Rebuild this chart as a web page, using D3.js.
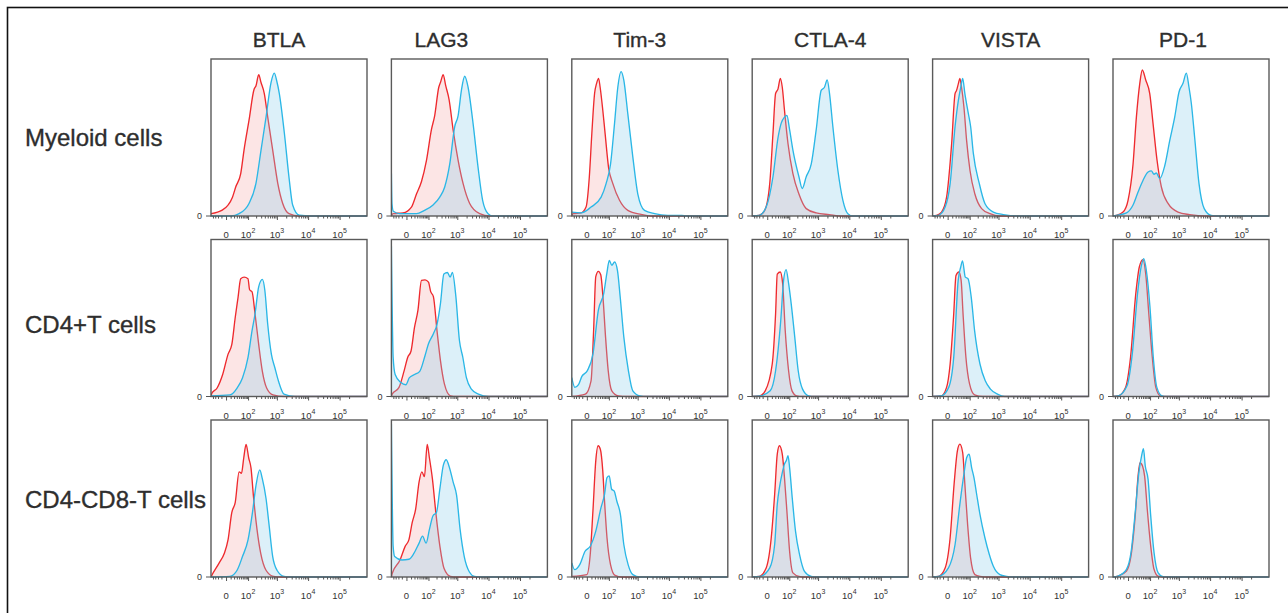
<!DOCTYPE html>
<html>
<head>
<meta charset="utf-8">
<script src="https://cdn.jsdelivr.net/npm/d3@7"></script>
<style>
  html, body { margin: 0; padding: 0; background: #fff; }
  svg { display: block; font-family: "Liberation Sans", Arial, Helvetica, sans-serif; }
</style>
</head>
<body>
<div id="chart"></div>
<script>
// markers (columns) and cell populations (rows)
const markers = ["BTLA", "LAG3", "Tim-3", "CTLA-4", "VISTA", "PD-1"];
const populations = ["Myeloid cells", "CD4+T cells", "CD4-CD8-T cells"];

// x axis ticks (fluorescence intensity) and their labels
const majorTicks = [0, 100, 1000, 10000, 100000];
const tickBase = ["0", "10", "10", "10", "10"];
const tickExp = ["", "2", "3", "4", "5"];
const minorTicks = [-40, -30, -20, -10, 10, 20, 30, 40, 50, 60, 70, 80, 90,
  200, 300, 400, 500, 600, 700, 800, 900, 2000, 3000, 4000, 5000, 6000, 7000, 8000, 9000,
  20000, 30000, 40000, 50000, 60000, 70000, 80000, 90000, 200000];

// histograms: [intensity, % of max], one curve per marker (same order as markers)
// red = control, blue = stained
const myeloidCtrl = [
  [[-50,1.5],[-8,3.7],[15,12],[26,18.6],[48,27],[68,42],[109,61],[168,80.6],[198,83],[247,90],[297,85],[384,78],[500,63],[730,42],[1065,21],[1545,8],[2460,1.5],[5130,0]],
  [[-42,1.5],[-7,2],[11,5.7],[27,14],[50,22],[83,35.5],[130,55],[172,64],[240,82],[280,85.5],[340,90],[415,83],[540,74],[730,55],[1065,35.5],[1545,20.6],[2510,8],[5230,1.5],[11000,0]],
  [[-44,1.5],[-13,2],[-1.5,5.7],[5,25],[11,52.5],[19,78],[26,84.5],[34,87.7],[41,82],[55,67.5],[70,52.5],[97,31],[142,20.6],[247,10],[474,3.6],[1290,1],[2650,0]],
  [[-20,0.4],[-5,3.6],[5,20.6],[13,52.5],[21,78],[30,81],[40,87.7],[50,82],[63,67.5],[89,46],[138,27],[228,14],[406,4.7],[869,2],[2285,0.9],[6250,0]],
  [[-31,0.4],[-14,2.5],[-2,12],[8.5,46],[18,78],[23,80],[30,84.5],[36,87.7],[44,82],[57,69.6],[75,48],[103,29],[158,14],[274,4.7],[525,1.5],[1088,0]],
  [[-34,0.4],[-11,2.5],[0,10],[11,33],[21,63],[34,84.5],[46,93],[66,86.6],[97,78],[130,59],[183,35.5],[260,18.5],[439,8],[937,2.5],[2230,0.9],[7400,0]]
];
const myeloidStain = [
  [[-50,0],[11,0],[40,1.5],[109,8],[198,21],[297,42],[439,63],[643,85],[825,91],[990,86],[1200,78],[1740,53],[2510,23],[3220,7],[5230,0.5],[12350,0]],
  [[-50,27],[-47,8],[-40,3],[-16,1.5],[27,1.5],[68,3.6],[150,7],[260,12],[384,18.5],[565,33],[825,57],[1065,64],[1360,80],[1740,89],[2230,82],[3220,59],[4650,31],[6500,10],[9700,1.5],[14000,0]],
  [[-50,2.5],[-13,2],[9,5.7],[46,12],[77,20.6],[116,33],[164,59],[215,82],[280,92],[347,86.6],[474,65],[693,37.7],[1010,14],[1660,3.6],[3520,1.5],[9200,0.4],[25600,0.3],[37000,0]],
  [[-20,0.4],[-2,5.7],[13,25],[30,50],[44,59],[63,63],[80,64],[103,55],[138,42],[228,25],[297,17.5],[406,25],[596,33],[869,55],[1263,80],[1610,82],[1970,86.6],[2340,78],[2990,57],[4330,29],[6250,10],[9000,1.5],[13000,0]],
  [[-24,0.4],[-5,5.7],[5,20.6],[18,57],[30,74],[40,82],[50,87.7],[63,78],[89,65],[109,57],[138,40],[228,20.6],[355,8],[680,2.5],[1430,0.9],[3820,0]],
  [[-34,0.4],[-3,2],[11,7],[27,15.3],[50,22.8],[83,28],[112,28.7],[142,26.6],[172,27.4],[228,23.8],[340,32],[500,48],[730,63],[1010,79],[1360,84.5],[1740,91],[2120,82],[2510,72],[3220,50],[4430,20.6],[6500,4.7],[10800,0.4],[17800,0]]
];
const cd4Ctrl = [
  [[-46,2],[-23,5.4],[-7,14],[4,27],[13,33],[24,50.5],[35,63],[48,75],[69,76],[99,75],[115,68],[142,66.7],[183,52.7],[247,33],[330,16],[460,5.4],[748,1],[1700,0]],
  [[-46,1.5],[-18,5.8],[-4.5,16.5],[2.5,25],[10,29],[20,44],[33,55],[50,74],[72,74.3],[100,72.8],[122,66.8],[154,63.6],[208,42],[274,23],[375,8],[596,0.4],[937,0]],
  [[-50,0],[-3,1.5],[9,10],[16,42],[23,76.4],[33,79.7],[44,77.5],[56,63.6],[73,38],[94,16.5],[130,3.6],[225,0.4],[439,0]],
  [[-18,0.4],[-4,3.6],[11,20.7],[21,52.7],[27,78],[40,79.3],[52,72],[68,42],[94,16.4],[128,3.6],[188,0.4],[297,0]],
  [[-15,0.4],[-2,5.8],[5,20.7],[14,52.7],[21,77],[32,79.3],[42,74],[52,52.7],[70,25],[99,8],[154,1],[297,0]],
  [[-26,0.4],[-5,5.8],[5,25],[19,65.5],[32,82.5],[49,87.2],[66,78],[89,52.7],[122,25],[165,5.8],[240,0.4],[347,0]]
];
const cd4Stain = [
  [[-50,0.4],[8,1],[31,5.4],[58,11.8],[99,24.7],[142,42],[183,52.7],[247,70],[330,74.6],[400,67.7],[500,46],[660,27],[860,18.3],[1130,9.7],[1700,1.5],[3770,0]],
  [[-50,95.7],[-41,25],[-32,14],[-13,9],[-1,7.5],[6,12],[20,14],[41,16],[72,26],[100,33.6],[154,40],[208,46],[274,59],[360,78],[474,79],[583,76],[693,79],[900,63.6],[1172,35.8],[1510,25],[1970,12],[2850,4.7],[4770,1.5],[9900,0]],
  [[-50,12],[-35,5.8],[-21,7.5],[-11,12.8],[1,16.5],[14,27],[33,55],[61,65.7],[83,78.6],[104,86.7],[130,83.5],[165,85.7],[210,80],[260,63.6],[347,38],[495,16.5],[693,3.6],[1172,0.4],[1970,0]],
  [[-17,0.4],[6,3.6],[21,16.4],[42,48.4],[58,74.4],[74,80.8],[94,72],[119,59],[162,37.7],[215,16.4],[305,4.7],[490,0.4],[748,0]],
  [[-15,0.4],[2,5.8],[14,25],[29,74],[40,82.5],[49,86.4],[66,76],[86,75],[115,63.3],[154,42],[240,20.7],[365,10],[545,4.7],[925,1.5],[1578,0]],
  [[-26,0.4],[-2,6.8],[9,27],[25,65.5],[40,82.5],[54,87.8],[70,80.4],[99,57],[133,25],[180,5.8],[274,0.4],[406,0]]
];
const dnCtrl = [
  [[-46,1],[-17,8.7],[-3.5,15],[4,23.8],[13,41],[24,47.6],[40,67],[52,66],[66,75.8],[83,84.4],[106,75.8],[130,69.3],[159,52],[215,30.3],[290,15],[439,4.3],[775,0.4],[1360,0]],
  [[-46,2.2],[-15,10.8],[-2.5,19.5],[5,23.8],[13,34.6],[24,43.3],[38,60.6],[52,67],[68,63.9],[89,84.4],[109,75.8],[141,62.8],[189,41],[263,19.5],[366,5.4],[596,0.4],[937,0]],
  [[-50,0.4],[0,1.5],[7,14.3],[14,42],[23,74],[32,83.6],[42,81.4],[55,67.6],[66,48.4],[84,25],[116,7.9],[172,1],[297,0]],
  [[-20,0.4],[-2,5.8],[8.5,25],[18,52.7],[27,78.3],[36,83.6],[50,78.3],[63,63.3],[80,42],[103,16.4],[138,2.6],[228,0.4],[347,0]],
  [[-24,0.4],[-5,5.8],[5,25],[15,59],[26,80.4],[36,84.6],[50,79.3],[63,59],[83,33],[109,12],[158,1.5],[240,0.4],[439,0]],
  [[-27,0.6],[-3,3.8],[6,13.4],[18,41],[27,64.3],[35,72.8],[47,70.7],[59,64.3],[77,43],[106,19.7],[142,4.9],[198,0.6],[347,0]]
];
const dnStain = [
  [[-50,0],[8,0.4],[31,4.3],[58,13],[100,23.8],[147,41],[198,58.4],[268,68.2],[327,62.8],[439,50],[552,33.5],[730,13],[1010,4.3],[1700,0.4],[2850,0]],
  [[-50,97.4],[-41,19.5],[-34,13],[-10,10.8],[5,11.3],[18,15],[38,21.6],[56,26],[80,21.6],[109,30.3],[149,39],[198,41],[263,56.3],[347,71.4],[432,74.7],[561,69.3],[730,60.6],[950,52],[1235,30.3],[1680,13],[2460,3.2],[3560,0.4],[5940,0]],
  [[-50,9],[-36,4.7],[-17,7.9],[-3.5,16.4],[7,19.6],[23,29.2],[45,44],[66,52.7],[84,63.3],[103,64.4],[128,55.9],[158,54.8],[198,48.4],[265,39.9],[347,20.7],[485,7.9],[693,1.5],[1172,0]],
  [[-17,0.4],[5,5.8],[18,20.7],[27,46.3],[36,57],[50,66.5],[63,71.9],[75,74],[89,77.2],[103,69.7],[130,50.5],[172,29.2],[240,14.3],[355,3.6],[596,0.4],[937,0]],
  [[-23,0.4],[1.5,5.8],[18,20.7],[36,46.3],[57,65.5],[75,76],[95,78.3],[119,69.7],[146,63.3],[183,52.7],[240,39.9],[355,25],[500,14.3],[680,6.8],[1110,1.5],[1830,0.4],[2850,0]],
  [[-27,0.6],[-3,4.9],[6,15.5],[18,43],[30,66.5],[42,77],[52,81.7],[63,70.7],[83,62.2],[106,38.9],[142,15.5],[198,2.8],[297,0.2],[474,0]]
];

const ctrlRows = [myeloidCtrl, cd4Ctrl, dnCtrl];
const stainRows = [myeloidStain, cd4Stain, dnStain];

const W = 1288, H = 613;
const PW = 156, PH = 157;
const colX = d3.scaleLinear().domain([0, 5]).range([211, 1113]);
const rowY = d3.scaleLinear().domain([0, 2]).range([59, 420]);
const headerShift = [-10, -28, -10, 0, 0, -8];
const labelShift = [8, 15, 9];

const x = d3.scaleSymlog().constant(25).domain([-50, 740000]).range([0, PW]);
const y = d3.scaleLinear().domain([0, 100]).range([PH, 0]);

const RED = "#ee2a2e", BLUE = "#2bb7e6";
const INK = "#2e2e2e";

const svg = d3.select("#chart").append("svg")
  .attr("width", W).attr("height", H).attr("viewBox", `0 0 ${W} ${H}`);

/* outer frame of the figure */
svg.append("rect").attr("x", 7.5).attr("y", 7.5).attr("width", W + 20).attr("height", H + 20)
  .attr("fill", "none").attr("stroke", "#111").attr("stroke-width", 1.6);

/* column headers */
markers.forEach((m, j) => {
  svg.append("text").attr("x", colX(j) + PW / 2 + headerShift[j]).attr("y", 47)
    .attr("text-anchor", "middle").attr("font-size", "21px")
    .attr("fill", INK).attr("stroke", INK).attr("stroke-width", 0.35).text(m);
});

/* row labels */
populations.forEach((p, i) => {
  svg.append("text").attr("x", 25).attr("y", rowY(i) + PH / 2 + labelShift[i])
    .attr("font-size", "24px")
    .attr("fill", INK).attr("stroke", INK).attr("stroke-width", 0.35).text(p);
});

function extend(d) {
  const out = d.slice();
  const [x0, x1] = x.domain();
  if (out[0][0] > x0) out.unshift([x0, 0]);
  if (out[out.length - 1][0] < x1) out.push([x1, 0]);
  return out;
}

const area = d3.area().x(d => x(d[0])).y0(PH).y1(d => y(d[1])).curve(d3.curveMonotoneX);
const line = d3.line().x(d => x(d[0])).y(d => y(d[1])).curve(d3.curveMonotoneX);

populations.forEach((pop, i) => {
  markers.forEach((m, j) => {
    const g = svg.append("g").attr("transform", `translate(${colX(j)},${rowY(i)})`);
    const clipId = `clip-${i}-${j}`;
    g.append("clipPath").attr("id", clipId)
      .append("rect").attr("x", 0).attr("y", -2).attr("width", PW).attr("height", PH + 3);

    const plot = g.append("g").attr("clip-path", `url(#${clipId})`);
    const ctrl = extend(ctrlRows[i][j]);
    const stain = extend(stainRows[i][j]);

    plot.append("path").datum(ctrl).attr("d", area).attr("fill", "rgba(245,150,150,0.25)");
    plot.append("path").datum(ctrl).attr("d", line).attr("fill", "none")
      .attr("stroke", RED).attr("stroke-width", 1.35);
    plot.append("path").datum(stain).attr("d", area).attr("fill", "rgba(140,205,235,0.3)");
    plot.append("path").datum(stain).attr("d", line).attr("fill", "none")
      .attr("stroke", BLUE).attr("stroke-width", 1.35);

    /* frame */
    g.append("rect").attr("x", 0).attr("y", 0).attr("width", PW).attr("height", PH)
      .attr("fill", "none").attr("stroke", "#5a5a5a").attr("stroke-width", 1.4);

    /* y zero label */
    g.append("text").attr("x", -9).attr("y", PH + 3).attr("text-anchor", "end")
      .attr("font-size", "9px").attr("fill", "#333").text("0");
    g.append("line").attr("x1", -5).attr("x2", 0).attr("y1", PH).attr("y2", PH)
      .attr("stroke", "#555").attr("stroke-width", 1);

    /* x axis: minor + major ticks */
    const minorAx = g.append("g").attr("transform", `translate(0,${PH})`)
      .call(d3.axisBottom(x).tickValues(minorTicks).tickSize(2.5).tickFormat(""));
    const majorAx = g.append("g").attr("transform", `translate(0,${PH})`)
      .call(d3.axisBottom(x).tickValues(majorTicks).tickSize(4).tickFormat(""));
    [minorAx, majorAx].forEach(ax => {
      ax.select(".domain").remove();
      ax.selectAll("line").attr("stroke", "#555").attr("stroke-width", 1);
    });

    majorTicks.forEach((v, k) => {
      const t = g.append("text").attr("x", x(v)).attr("y", PH + 22)
        .attr("text-anchor", "middle").attr("font-size", "9.5px").attr("fill", "#333");
      t.append("tspan").text(tickBase[k]);
      if (tickExp[k]) t.append("tspan").attr("dy", -5).attr("font-size", "7px").text(tickExp[k]);
    });
  });
});
</script>
</body>
</html>
